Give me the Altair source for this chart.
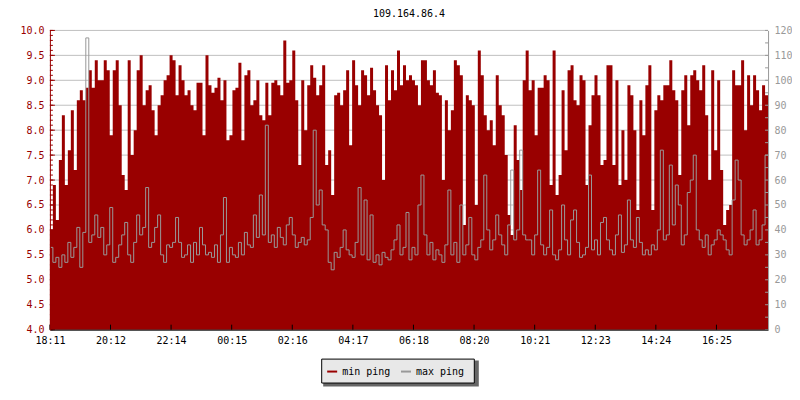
import json
import altair as alt
import pandas as pd

# ---------------- data ----------------
title_text = "109.164.86.4"
x_tick_labels = ["18:11", "20:12", "22:14", "00:15", "02:16", "04:17",
                 "06:18", "08:20", "10:21", "12:23", "14:24", "16:25"]
series_names = ["min ping", "max ping"]

# min ping (left axis units), one sample every 6 minutes, 24 h
min_ping = [
    6.0, 6.9, 6.2, 7.4, 8.3, 6.9, 7.6, 8.4, 7.2, 8.6, 8.8, 8.6, 8.85, 9.2, 8.85, 9.4, 9.0, 9.0, 9.4, 9.2,
    7.9, 9.2, 9.4, 8.5, 7.1, 6.8, 9.4, 7.5, 8.0, 9.2, 9.5, 8.5, 8.8, 8.9, 8.4, 7.9, 8.5, 8.7, 9.0, 9.1,
    9.5, 9.4, 8.7, 9.3, 9.0, 8.7, 8.8, 8.5, 8.4, 8.95, 8.95, 7.9, 9.5, 8.9, 8.75, 8.85, 9.05, 8.6, 9.0, 7.8,
    7.9, 8.8, 8.85, 9.35, 7.8, 9.1, 9.2, 8.5, 8.6, 9.0, 8.3, 8.2, 8.95, 8.3, 8.95, 9.0, 8.9, 8.7, 9.8, 8.95,
    9.0, 9.6, 8.6, 7.3, 9.0, 8.0, 8.9, 9.3, 9.05, 8.7, 8.9, 9.3, 7.3, 7.6, 6.7, 8.7, 8.75, 8.5, 8.8, 9.2,
    7.7, 9.4, 8.9, 8.5, 9.2, 9.1, 8.7, 9.25, 8.8, 8.5, 8.3, 7.0, 9.3, 8.6, 9.2, 8.8, 9.6, 8.9, 9.3, 9.0,
    9.1, 9.0, 8.9, 8.5, 9.4, 9.4, 9.0, 8.9, 9.2, 8.75, 8.7, 7.0, 8.6, 8.0, 8.4, 9.4, 9.3, 9.1, 6.1, 8.7,
    8.6, 8.5, 6.5, 9.6, 9.1, 8.3, 8.0, 8.2, 7.7, 9.1, 8.5, 8.3, 7.5, 6.3, 5.9, 8.1, 7.4, 6.8, 9.0, 9.6,
    8.8, 9.0, 7.9, 8.85, 8.85, 9.1, 9.0, 6.9, 9.6, 6.7, 7.1, 8.8, 7.6, 9.2, 9.3, 8.6, 8.5, 9.1, 9.0, 6.9,
    8.1, 8.7, 9.1, 8.7, 7.3, 7.4, 9.3, 9.3, 7.3, 9.0, 6.9, 8.0, 7.0, 8.9, 8.7, 8.0, 6.4, 8.6, 7.9, 8.9,
    9.3, 6.4, 8.4, 8.7, 8.6, 8.9, 8.9, 9.4, 8.8, 8.6, 7.1, 8.8, 9.1, 8.1, 9.1, 9.2, 9.0, 8.8, 9.3, 8.3,
    7.0, 9.2, 7.6, 9.0, 7.2, 6.1, 6.4, 6.5, 9.2, 8.9, 8.9, 9.4, 8.0, 9.1, 8.5, 9.1, 8.8, 8.4, 8.9, 8.7,
]

# max ping (right axis units, ms)
max_ping = [
    33, 27, 29, 25, 30, 27, 35, 29, 33, 41, 25, 39, 117, 35, 38, 46, 37, 41, 30, 34,
    49, 27, 29, 34, 38, 43, 30, 27, 35, 46, 38, 41, 57, 33, 35, 41, 46, 30, 27, 34,
    33, 35, 45, 35, 29, 30, 34, 27, 35, 30, 41, 34, 30, 31, 29, 34, 27, 38, 53, 27,
    33, 30, 29, 35, 30, 39, 34, 33, 46, 37, 54, 38, 82, 35, 38, 33, 41, 37, 34, 42,
    45, 38, 33, 35, 37, 34, 36, 45, 80, 50, 56, 42, 40, 27, 24, 31, 29, 33, 40, 32,
    30, 29, 35, 57, 30, 52, 28, 46, 27, 30, 26, 31, 29, 28, 32, 36, 42, 30, 33, 47,
    28, 33, 30, 50, 62, 38, 30, 35, 28, 32, 30, 27, 34, 56, 30, 35, 27, 50, 30, 34,
    45, 30, 28, 33, 36, 62, 40, 32, 36, 46, 38, 34, 30, 42, 64, 36, 40, 72, 38, 36,
    36, 30, 38, 64, 34, 30, 33, 48, 30, 28, 32, 50, 36, 30, 44, 48, 35, 29, 30, 33,
    62, 32, 36, 30, 43, 45, 36, 32, 30, 38, 46, 31, 34, 52, 36, 33, 45, 35, 30, 32,
    30, 34, 32, 40, 72, 36, 38, 66, 42, 58, 50, 34, 38, 55, 60, 70, 40, 36, 33, 38,
    30, 34, 36, 40, 38, 36, 32, 30, 52, 68, 60, 38, 34, 36, 40, 48, 34, 36, 42, 70,
]

left_major = [4.0, 4.5, 5.0, 5.5, 6.0, 6.5, 7.0, 7.5, 8.0, 8.5, 9.0, 9.5, 10.0]
left_minor = [round(4.0 + i * 0.1, 1) for i in range(61)]
right_major = [0, 10, 20, 30, 40, 50, 60, 70, 80, 90, 100, 110, 120]
right_minor = [i * 5 for i in range(25)]

# ---------------- table ----------------
step = 6          # minutes per sample
span = 1440       # 24 h
tick_step = 121.5 # minutes between time labels
x_ticks = [round(i * tick_step, 2) for i in range(len(x_tick_labels))]

df = pd.DataFrame({
    "t": [i * step for i in range(len(min_ping))] + [span],
    "minp": min_ping + [min_ping[-1]],
    "maxp": max_ping + [max_ping[-1]],
})

MONO = "DejaVu Sans Mono"
RED = "#990000"
GRAY = "#999999"
W, H = 720, 300

x_scale = alt.Scale(domain=[0, span], nice=False, zero=False)
left_scale = alt.Scale(domain=[4, 10], nice=False, zero=False)
right_scale = alt.Scale(domain=[0, 120], nice=False, zero=False)

label_expr = json.dumps(x_tick_labels) + f"[round(datum.value / {tick_step})]"
x_enc = alt.X("t:Q", scale=x_scale, axis=alt.Axis(
    values=x_ticks, labelExpr=label_expr, title=None, grid=False, ticks=False,
    domainColor="black", labelColor="black", labelFont=MONO, labelFontSize=10,
    labelPadding=6, labelFlush=False, labelOverlap=False, zindex=1))

base = alt.Chart(df)

# grid
grid = alt.Chart(pd.DataFrame({"v": left_major})).mark_rule(
    color="#c0c0c0", strokeWidth=1).encode(
    y=alt.Y("v:Q", scale=left_scale, axis=None))

area = base.mark_area(interpolate="step-after", color=RED).encode(
    x=x_enc,
    y=alt.Y("minp:Q", scale=left_scale, axis=alt.Axis(
        orient="left", values=left_major, format=".1f", title=None, grid=False,
        ticks=False, domainColor=RED, labelColor=RED, labelFont=MONO,
        labelFontSize=10, labelPadding=6, zindex=1)),
    y2=alt.datum(4.0),
)

lt_minor = alt.Chart(pd.DataFrame({"v": left_minor})).mark_rule(color=RED).encode(
    y=alt.Y("v:Q", scale=left_scale, axis=None), x=alt.value(0), x2=alt.value(3))
lt_major = alt.Chart(pd.DataFrame({"v": left_major})).mark_rule(color=RED).encode(
    y=alt.Y("v:Q", scale=left_scale, axis=None), x=alt.value(0), x2=alt.value(5))

line = base.mark_line(interpolate="step-after", color=GRAY, strokeWidth=1).encode(
    x=alt.X("t:Q", scale=x_scale),
    y=alt.Y("maxp:Q", scale=right_scale, axis=alt.Axis(
        orient="right", values=right_major, format="d", title=None, grid=False,
        ticks=False, domainColor=GRAY, labelColor=GRAY, labelFont=MONO,
        labelFontSize=10, labelPadding=6, zindex=1)),
)
rt = alt.Chart(pd.DataFrame({"v": right_minor})).mark_rule(color=GRAY).encode(
    y=alt.Y("v:Q", scale=right_scale, axis=None), x=alt.value(W - 3), x2=alt.value(W))
xt = alt.Chart(pd.DataFrame({"v": x_ticks})).mark_rule(color="black").encode(
    x=alt.X("v:Q", scale=x_scale), y=alt.value(H - 5), y2=alt.value(H))

# legend box with shadow
one = pd.DataFrame({"a": [0]})
shadow = alt.Chart(one).mark_rect(fill="#666666").encode(
    x=alt.value(274), x2=alt.value(430), y=alt.value(331), y2=alt.value(357))
box = alt.Chart(one).mark_rect(fill="#e8e8e8", stroke="black", strokeWidth=1).encode(
    x=alt.value(272.5), x2=alt.value(425.5), y=alt.value(329.5), y2=alt.value(353.5))
leg = alt.Chart(pd.DataFrame({"s": series_names})).mark_line().encode(
    x=alt.value(0), y=alt.value(0),
    color=alt.Color("s:N", scale=alt.Scale(domain=series_names, range=[RED, GRAY]),
                    legend=alt.Legend(
                        orient="none", legendX=277, legendY=336, direction="horizontal",
                        title=None, symbolType="stroke", symbolStrokeWidth=2,
                        symbolSize=100, labelFont=MONO, labelFontSize=10,
                        labelColor="black", columnPadding=6, labelOffset=4,
                        padding=0, zindex=1)),
)

chart = alt.layer(
    grid, area, lt_minor, lt_major, line, rt, xt, shadow, box, leg
).resolve_scale(
    y="independent"
).properties(
    width=W, height=H,
    title=alt.TitleParams(text=title_text, font=MONO, fontSize=10, fontWeight="normal",
                          color="black", anchor="middle", frame="group", offset=6),
    autosize=alt.AutoSizeParams(type="none"),
    padding={"left": 42, "top": 22, "right": 24, "bottom": 62},
).configure_view(stroke=None)

chart.save("out.html", embed_options={"renderer": "svg", "actions": False})
